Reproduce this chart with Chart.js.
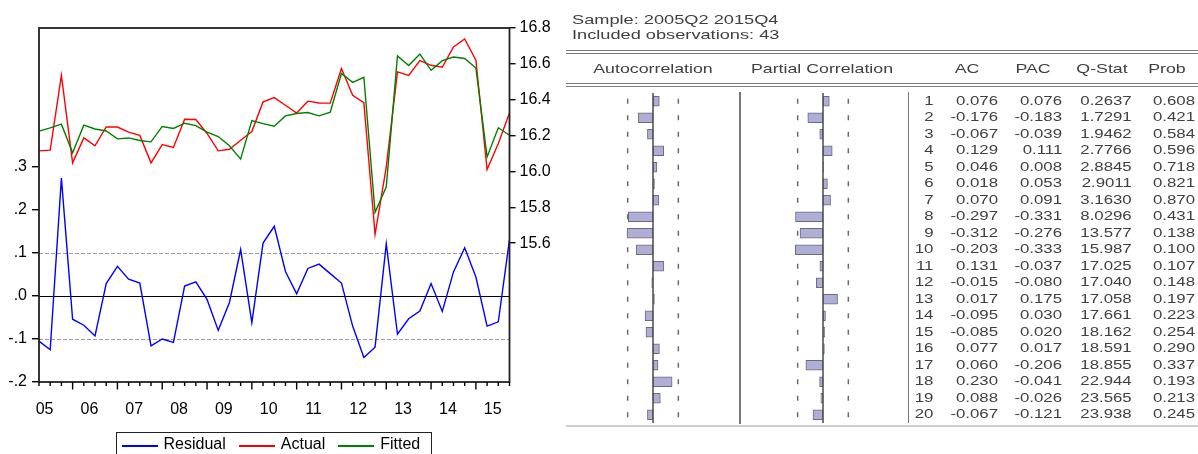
<!DOCTYPE html>
<html>
<head>
<meta charset="utf-8">
<title>Residual, Actual, Fitted and residual correlogram</title>
<script src="https://cdn.jsdelivr.net/npm/chart.js@4.4.1/dist/chart.umd.min.js"></script>
<style>
  html, body { margin: 0; padding: 0; background: #fff; }
  body { width: 1198px; height: 454px; overflow: hidden; position: relative;
         font-family: "Liberation Sans", Arial, sans-serif; }
  #fitChart { position: absolute; left: 0; top: 0; }
  #legend { position: absolute; left: 116px; top: 432px; width: 316px; height: 40px;
            border: 1.5px solid #222; box-sizing: border-box; display: flex;
            align-items: flex-start; padding-left: 4.5px; }
  #legend .item { display: flex; align-items: flex-start; margin-right: 13px; }
  #legend .swatch { width: 36px; height: 1.5px; margin-top: 12px; margin-right: 6px; }
  #legend .name { font-size: 16px; line-height: 16px; margin-top: 3px; color: #000; }
  #corr { position: absolute; left: 560px; top: 0; width: 638px; height: 454px;
          filter: blur(0.6px); }
  #corr .t { position: absolute; white-space: nowrap; color: #404040; }
  #corr .rule { position: absolute; background: #7a7a7a; }
  #corr canvas { position: absolute; }
</style>
</head>
<body>
<canvas id="fitChart" width="560" height="454"></canvas>
<div id="legend"></div>
<div id="corr">
  <canvas id="acBars" width="108" height="330"></canvas>
  <canvas id="pacBars" width="108" height="330"></canvas>
</div>
<script>
// ---------- Residual / Actual / Fitted (quarterly, 2005Q2-2015Q4) ----------
const quarters = [];
for (let yr = 2005; yr <= 2015; yr++) {
  for (let q = 1; q <= 4; q++) {
    if (yr === 2005 && q === 1) continue;
    quarters.push(yr + 'Q' + q);
  }
}
const yearLabels = ['05', '06', '07', '08', '09', '10', '11', '12', '13', '14', '15'];

const actual = [16.115, 16.119, 16.536, 16.048, 16.187, 16.143, 16.248, 16.248, 16.219, 16.201,
                16.048, 16.150, 16.134, 16.291, 16.290, 16.212, 16.115, 16.124, 16.174, 16.223,
                16.388, 16.412, 16.369, 16.326, 16.392, 16.382, 16.381, 16.574, 16.425, 16.384,
                15.649, 16.026, 16.555, 16.535, 16.618, 16.592, 16.581, 16.694, 16.739, 16.620,
                16.011, 16.156, 16.326];
const fitted = [16.225, 16.243, 16.264, 16.104, 16.258, 16.237, 16.226, 16.182, 16.187, 16.173,
                16.165, 16.251, 16.240, 16.269, 16.256, 16.219, 16.195, 16.143, 16.069, 16.284,
                16.267, 16.252, 16.310, 16.323, 16.329, 16.310, 16.330, 16.546, 16.497, 16.525,
                15.772, 15.914, 16.644, 16.591, 16.655, 16.564, 16.618, 16.638, 16.630, 16.577,
                16.081, 16.244, 16.202];
const residual = [-0.105, -0.125, 0.274, -0.054, -0.068, -0.093, 0.029, 0.069, 0.039, 0.030,
                  -0.116, -0.100, -0.108, 0.023, 0.033, -0.008, -0.080, -0.015, 0.108, -0.062,
                  0.123, 0.162, 0.057, 0.005, 0.064, 0.074, 0.052, 0.030, -0.070, -0.143,
                  -0.119, 0.121, -0.089, -0.053, -0.035, 0.029, -0.036, 0.056, 0.112, 0.044,
                  -0.070, -0.060, 0.131];

const residualTicks = [-0.2, -0.1, 0, 0.1, 0.2, 0.3];
const levelTicks = [15.6, 15.8, 16.0, 16.2, 16.4, 16.6, 16.8];
const residualBand = [-0.1, 0.1];   // ±1 S.E. guide lines

// ---------- Correlogram of residuals ----------
const lags = [1, 2, 3, 4, 5, 6, 7, 8, 9, 10, 11, 12, 13, 14, 15, 16, 17, 18, 19, 20];
const acf  = [0.076, -0.176, -0.067, 0.129, 0.046, 0.018, 0.070, -0.297, -0.312, -0.203,
              0.131, -0.015, 0.017, -0.095, -0.085, 0.077, 0.060, 0.230, 0.088, -0.067];
const pacf = [0.076, -0.183, -0.039, 0.111, 0.008, 0.053, 0.091, -0.331, -0.276, -0.333,
              -0.037, -0.080, 0.175, 0.030, 0.020, 0.017, -0.206, -0.041, -0.026, -0.121];
const qStat = [0.2637, 1.7291, 1.9462, 2.7766, 2.8845, 2.9011, 3.1630, 8.0296, 13.577, 15.987,
               17.025, 17.040, 17.058, 17.661, 18.162, 18.591, 18.855, 22.944, 23.565, 23.938];
const qProb = [0.608, 0.421, 0.584, 0.596, 0.718, 0.821, 0.870, 0.431, 0.138, 0.100,
               0.107, 0.148, 0.197, 0.223, 0.254, 0.290, 0.337, 0.193, 0.213, 0.245];
const corrBound = 0.305;   // approx. 2/sqrt(43)

const FONT = '"Liberation Sans", Arial, sans-serif';
Chart.defaults.font.family = FONT;

const fmtResidual = v => (v < 0 ? '-' : '') + '.' + Math.round(Math.abs(v) * 10);
const fmtQ = v => v < 10 ? v.toFixed(4) : v.toFixed(3);

// frame, zero/band guides and quarterly tick marks of the fit plot
const fitFrame = {
  id: 'fitFrame',
  beforeDatasetsDraw(chart) {
    const { ctx, chartArea: a, scales } = chart;
    const y = scales.yRes;
    ctx.save();
    ctx.lineWidth = 1;
    ctx.strokeStyle = '#9c9c9c';
    ctx.setLineDash([4, 2]);
    residualBand.forEach(v => {
      const py = Math.round(y.getPixelForValue(v)) + 0.5;
      ctx.beginPath(); ctx.moveTo(a.left, py); ctx.lineTo(a.right, py); ctx.stroke();
    });
    ctx.setLineDash([]);
    ctx.strokeStyle = '#000';
    const pz = Math.round(y.getPixelForValue(0)) + 0.5;
    ctx.beginPath(); ctx.moveTo(a.left, pz); ctx.lineTo(a.right, pz); ctx.stroke();
    ctx.restore();
  },
  afterDraw(chart) {
    const { ctx, chartArea: a, scales } = chart;
    ctx.save();
    ctx.strokeStyle = '#222';
    ctx.lineWidth = 1.8;
    ctx.strokeRect(a.left, a.top, a.right - a.left, a.bottom - a.top);
    ctx.lineWidth = 1.4;
    ctx.strokeStyle = '#000';
    quarters.forEach((lab, i) => {
      const x = scales.x.getPixelForValue(i);
      const len = lab.endsWith('Q1') ? 7.5 : 4;
      ctx.beginPath(); ctx.moveTo(x, a.bottom); ctx.lineTo(x, a.bottom + len); ctx.stroke();
    });
    ctx.restore();
  }
};

const tickFont = { family: FONT, size: 16 };

const fitChart = new Chart(document.getElementById('fitChart'), {
  type: 'line',
  data: {
    labels: quarters,
    datasets: [
      { label: 'Residual', data: residual, borderColor: '#0000ff', yAxisID: 'yRes', order: 3 },
      { label: 'Actual', data: actual, borderColor: '#ff0000', yAxisID: 'yLev', order: 2 },
      { label: 'Fitted', data: fitted, borderColor: '#008000', yAxisID: 'yLev', order: 1 }
    ]
  },
  options: {
    responsive: false,
    animation: false,
    events: [],
    layout: { padding: { top: 28, left: 0, right: 0, bottom: 0 } },
    elements: { point: { radius: 0 }, line: { borderWidth: 1.4, tension: 0 } },
    plugins: { legend: { display: false }, tooltip: { enabled: false } },
    scales: {
      x: {
        type: 'category',
        offset: false,
        grid: { display: false },
        border: { display: false },
        ticks: { autoSkip: false, maxRotation: 0, padding: 10, color: '#000', font: tickFont,
                 callback: (v, i) => yearLabels[i] },
        afterBuildTicks: s => { s.ticks = yearLabels.map((_, k) => ({ value: 4 * k + 0.5 })); },
        afterFit: s => { s.height = 454 - 382; }
      },
      yRes: {
        position: 'left',
        min: -0.2, max: 0.623,
        grid: { drawOnChartArea: false, color: '#000', tickLength: 7, lineWidth: 1.4 },
        border: { display: false },
        ticks: { padding: 5, color: '#000', font: tickFont, callback: v => fmtResidual(v) },
        afterBuildTicks: s => { s.ticks = residualTicks.map(v => ({ value: v })); },
        afterFit: s => { s.width = 39; }
      },
      yLev: {
        position: 'right',
        min: 14.826, max: 16.8,
        grid: { drawOnChartArea: false, color: '#000', tickLength: 6, lineWidth: 1.4 },
        border: { display: false },
        ticks: { padding: 4, color: '#000', font: tickFont, callback: v => v.toFixed(1) },
        afterBuildTicks: s => { s.ticks = levelTicks.map(v => ({ value: v })); },
        afterFit: s => { s.width = 560 - 509.5; }
      }
    }
  },
  plugins: [fitFrame]
});

// legend built from the chart's datasets
const legendBox = document.getElementById('legend');
fitChart.data.datasets.forEach(ds => {
  const item = document.createElement('div');
  item.className = 'item';
  const sw = document.createElement('span');
  sw.className = 'swatch';
  sw.style.background = ds.borderColor;
  const nm = document.createElement('span');
  nm.className = 'name';
  nm.textContent = ds.label;
  item.appendChild(sw); item.appendChild(nm);
  legendBox.appendChild(item);
});

// ---------- correlogram table ----------
const corr = document.getElementById('corr');
const OX = 560;        // panel origin on the page
const STRETCH = 1.4;   // wide table lettering

function text(s, x, cy, size, align) {
  const el = document.createElement('div');
  el.className = 't';
  el.textContent = s;
  el.style.fontSize = size + 'px';
  el.style.lineHeight = size + 'px';
  el.style.top = (cy - 0.49 * size) + 'px';
  if (align === 'left') {
    el.style.left = (x - OX) + 'px';
    el.style.transformOrigin = '0 0';
    el.style.transform = 'scaleX(' + STRETCH + ')';
  } else if (align === 'right') {
    el.style.right = (OX + 638 - x) + 'px';
    el.style.transformOrigin = '100% 0';
    el.style.transform = 'scaleX(' + STRETCH + ')';
  } else {
    el.style.left = (x - OX) + 'px';
    el.style.transformOrigin = '50% 0';
    el.style.transform = 'translateX(-50%) scaleX(' + STRETCH + ')';
  }
  corr.appendChild(el);
}
function rule(x, y, w, h, color) {
  const el = document.createElement('div');
  el.className = 'rule';
  el.style.left = (x - OX) + 'px';
  el.style.top = y + 'px';
  el.style.width = w + 'px';
  el.style.height = h + 'px';
  if (color) el.style.background = color;
  corr.appendChild(el);
}

text('Sample: 2005Q2 2015Q4', 571.7, 19.6, 13, 'left');
text('Included observations: 43', 571.7, 34.8, 13, 'left');

rule(566, 50, 632, 1.2);
rule(566, 53, 632, 1.2);
rule(566, 83, 632, 1.2);
rule(566, 86, 632, 1.2);
rule(739.3, 92, 1.6, 332);
rule(907.8, 92, 1.6, 331);
rule(566, 424.5, 632, 2, '#cfcfcf');

const headY = 68.8;
text('Autocorrelation', 653.3, headY, 12.7, 'center');
text('Partial Correlation', 822, headY, 12.7, 'center');
text('AC', 966.5, headY, 12.7, 'center');
text('PAC', 1033, headY, 12.7, 'center');
text('Q-Stat', 1101.5, headY, 12.7, 'center');
text('Prob', 1166.5, headY, 12.7, 'center');

const rowTop = 100.8, rowStep = 16.5;
lags.forEach((lag, k) => {
  const cy = rowTop + k * rowStep;
  text(String(lag), 933.5, cy, 12, 'right');
  text(acf[k].toFixed(3), 998.5, cy, 12, 'right');
  text(pacf[k].toFixed(3), 1062, cy, 12, 'right');
  text(fmtQ(qStat[k]), 1132, cy, 12, 'right');
  text(qProb[k].toFixed(3), 1195, cy, 12, 'right');
});

// bounds and zero line of each bar column
const corrGuides = {
  id: 'corrGuides',
  beforeDatasetsDraw(chart) {
    const { ctx, scales } = chart;
    ctx.save();
    ctx.strokeStyle = '#6a6a6a';
    ctx.lineWidth = 1.5;
    [-corrBound, corrBound].forEach(b => {
      const x = scales.x.getPixelForValue(b);
      lags.forEach((_, k) => {
        const y = scales.y.getPixelForValue(k);
        ctx.beginPath(); ctx.moveTo(x, y - 2.5); ctx.lineTo(x, y + 2.5); ctx.stroke();
      });
    });
    ctx.restore();
  },
  afterDatasetsDraw(chart) {
    const { ctx, chartArea: a, scales } = chart;
    const x = scales.x.getPixelForValue(0);
    ctx.save();
    ctx.strokeStyle = '#4a4a4a';
    ctx.lineWidth = 1.5;
    ctx.beginPath(); ctx.moveTo(x, a.top); ctx.lineTo(x, a.bottom); ctx.stroke();
    ctx.restore();
  }
};

function correlogram(id, values, zeroX) {
  const cv = document.getElementById(id);
  cv.style.left = (zeroX - 54 - OX) + 'px';
  cv.style.top = '92.55px';
  return new Chart(cv, {
    type: 'bar',
    data: {
      labels: lags,
      datasets: [{ data: values, backgroundColor: '#aeaed6', borderColor: '#6b6b80',
                   borderWidth: 1, borderSkipped: false, barThickness: 10 }]
    },
    options: {
      indexAxis: 'y',
      responsive: false,
      animation: false,
      events: [],
      layout: { padding: 0 },
      plugins: { legend: { display: false }, tooltip: { enabled: false } },
      scales: {
        x: { display: false, min: -0.65, max: 0.65 },
        y: { display: false, offset: true }
      }
    },
    plugins: [corrGuides]
  });
}
correlogram('acBars', acf, 653.3);
correlogram('pacBars', pacf, 823.3);
</script>
</body>
</html>
